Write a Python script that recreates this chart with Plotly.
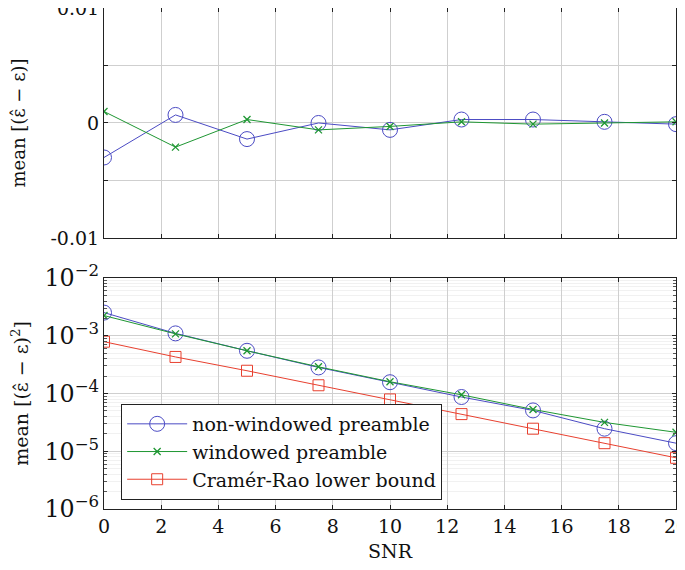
import plotly.graph_objects as go
from plotly.subplots import make_subplots

snr = [0, 2.5, 5, 7.5, 10, 12.5, 15, 17.5, 20]

bias_nonwin = [-0.0030, 0.0007, -0.0014, 0.0000, -0.0006, 0.0003, 0.0003, 0.0001, -0.0001]
bias_win = [0.0010, -0.0021, 0.0003, -0.0006, -0.0003, 0.0001, -0.0001, 0.0000, 0.0001]

mse_nonwin = [2.52e-3, 1.10e-3, 5.5e-4, 2.83e-4, 1.57e-4, 8.7e-5, 5.1e-5, 2.46e-5, 1.38e-5]
mse_win = [2.24e-3, 1.08e-3, 5.5e-4, 2.9e-4, 1.6e-4, 9.5e-5, 5.3e-5, 3.16e-5, 2.13e-5]
crlb = [7.9e-4, 4.3e-4, 2.48e-4, 1.39e-4, 7.9e-5, 4.4e-5, 2.46e-5, 1.38e-5, 7.7e-6]

names = ["non-windowed preamble", "windowed preamble", "Cramér-Rao lower bound"]

BLUE = "#4b4bc4"
GREEN = "#1e9632"
RED = "#e8402f"
FONT = "DejaVu Serif"

fig = make_subplots(rows=2, cols=1, shared_xaxes=False, vertical_spacing=0.08)

circ = dict(symbol="circle-open", size=15, color=BLUE, line=dict(width=1, color=BLUE))
xm = dict(symbol="x-thin-open", size=7, color=GREEN, line=dict(width=1.3, color=GREEN))
sq = dict(symbol="square-open", size=11, color=RED, line=dict(width=1, color=RED))

fig.add_trace(go.Scatter(x=snr, y=bias_nonwin, mode="lines+markers", line=dict(color=BLUE, width=1),
                         marker=circ, showlegend=False), row=1, col=1)
fig.add_trace(go.Scatter(x=snr, y=bias_win, mode="lines+markers", line=dict(color=GREEN, width=1),
                         marker=xm, showlegend=False), row=1, col=1)

fig.add_trace(go.Scatter(x=snr, y=mse_nonwin, mode="lines+markers", name=names[0],
                         line=dict(color=BLUE, width=1), marker=circ), row=2, col=1)
fig.add_trace(go.Scatter(x=snr, y=mse_win, mode="lines+markers", name=names[1],
                         line=dict(color=GREEN, width=1), marker=xm), row=2, col=1)
fig.add_trace(go.Scatter(x=snr, y=crlb, mode="lines+markers", name=names[2],
                         line=dict(color=RED, width=1), marker=sq), row=2, col=1)

axcommon = dict(showline=True, linecolor="#222", linewidth=1, mirror="ticks", ticks="inside",
                ticklen=4, tickcolor="#222", showgrid=True, gridcolor="#cfcfcf", gridwidth=1,
                zeroline=False, automargin=False, ticklabeloverflow="allow",
                tickfont=dict(family=FONT, size=19, color="#111"))

titlefont = dict(family=FONT, size=19, color="#111")

fig.update_xaxes(range=[0, 20], dtick=2, showticklabels=False, **axcommon, row=1, col=1)
fig.update_xaxes(range=[0, 20], dtick=2, title=dict(text="SNR", font=titlefont, standoff=8),
                 **axcommon, row=2, col=1)

fig.update_yaxes(range=[-0.01, 0.01], tickvals=[-0.01, -0.005, 0, 0.005, 0.01],
                 ticktext=["-0.01", "", "0", "", "0.01"],
                 title=dict(text="mean [(ε̂ − ε)]", font=dict(family=FONT, size=18, color="#111"), standoff=20),
                 **axcommon, row=1, col=1)
fig.update_yaxes(type="log", range=[-6, -2], dtick=1, exponentformat="power",
                 title=dict(text="mean [(ε̂ − ε)<sup>2</sup>]", font=titlefont, standoff=10),
                 minor=dict(dtick="D1", ticks="inside", ticklen=3, tickcolor="#555", showgrid=True,
                            gridcolor="#f1f1f1", gridwidth=1),
                 **axcommon, row=2, col=1)

fig.update_layout(
    width=677, height=562,
    margin=dict(l=96, r=9, t=0, b=61, autoexpand=False),
    plot_bgcolor="white", paper_bgcolor="white",
    font=dict(family=FONT, size=19, color="#111"),
    legend=dict(x=0.03, y=0.2096, xanchor="left", yanchor="top", bgcolor="white",
                bordercolor="#222", borderwidth=1, font=dict(family=FONT, size=19, color="#111"),
                itemwidth=60, tracegroupgap=0),
)
fig.update_yaxes(domain=[0.541, 1.0], row=1, col=1)
fig.update_yaxes(domain=[0.0, 0.461], row=2, col=1)

fig.write_html("out.html")
